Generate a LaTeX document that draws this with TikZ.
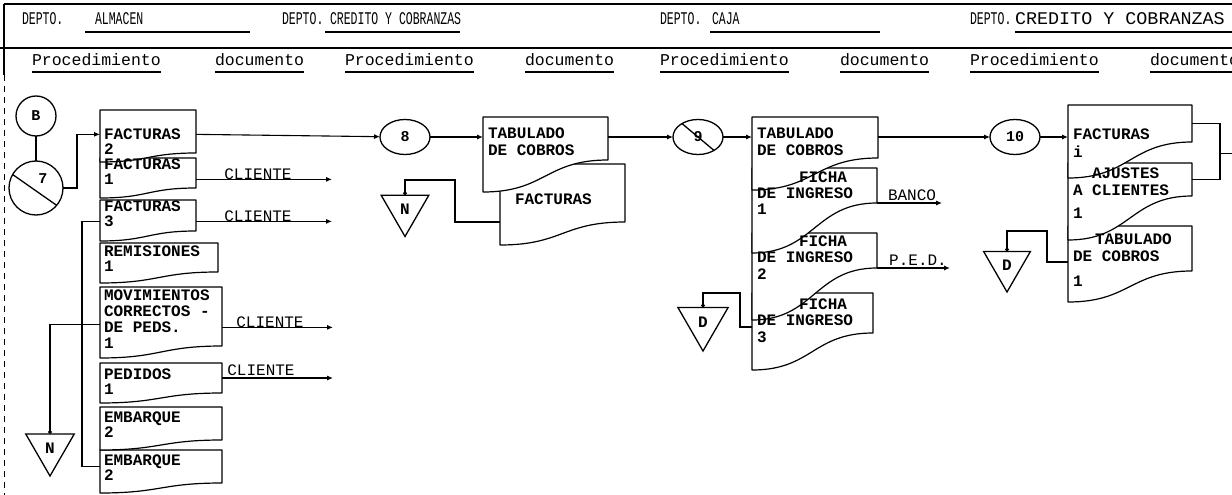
\documentclass[tikz,border=0pt]{standalone}
\usepackage{fontspec}
\usepackage{graphicx}
\setmainfont{Liberation Mono}
\usetikzlibrary{arrows.meta,fit,calc,shapes.geometric}
\newcommand\hs[1]{\scalebox{1}[1.55]{#1}}
\tikzset{
  every node/.style={inner sep=0pt, outer sep=0pt},
  plain/.style={line width=1.1pt},
  thickln/.style={line width=2.4pt},
  conn/.style={line width=1.1pt, -{Latex[length=6pt,width=5pt]}},
  dotc/.style={line width=1.1pt, -{Circle[length=4pt]}},
  docline/.style={line width=1.2pt, fill=white, line join=round},
  hdr/.style={font=\fontsize{11.5}{13}\selectfont, anchor=mid west},
  sub/.style={font=\fontsize{16.5}{18}\selectfont, anchor=mid west},
  dtxt/.style={font=\fontsize{16}{16}\selectfont\bfseries, anchor=mid west},
  lbl/.style={font=\fontsize{16}{16}\selectfont, anchor=base},
  circ/.style={draw, ellipse, line width=1.3pt, minimum width=50pt, minimum height=35pt, font=\fontsize{15}{15}\selectfont\bfseries},
  tri/.style={draw, regular polygon, regular polygon sides=3, shape border rotate=180, line width=1.3pt, font=\fontsize{16}{16}\selectfont\bfseries}
}
\newcommand\docbox[6]{%
  \draw[docline] (#2,#3) -- (#4,#3) -- (#4,#6) .. controls ({(#2+#4)/2},#6) and ({(#2+#4)/2},#5) .. (#2,#5) -- cycle;
  \node[fit={(#2,#3) (#4,#6)}] (#1) {};}
\begin{document}
\begin{tikzpicture}[x=1pt,y=-1pt]
\useasboundingbox (0,0) rectangle (1232,495);
\fill[white] (0,0) rectangle (1232,495);
% frame
\draw[line width=1.3pt] (4,4) -- (1232,4);
\draw[line width=1.1pt] (4,4) -- (4,75);
\draw[line width=0.8pt, dash pattern=on 6pt off 5pt] (4,75) -- (4,495);
\draw[line width=1.1pt] (0,48) -- (1232,48);
% header
\node[hdr] (h1) at (22,22) {\hs{DEPTO.}};
\node[hdr] (h1b) at (95,22) {\hs{ALMACEN}};
\draw[plain] (85,32) -- (250,32);
\node[hdr] (h2) at (282,22) {\hs{DEPTO.}};
\node[hdr] (h2b) at (330,22) {\hs{CREDITO Y COBRANZAS}};
\draw[plain] (325,32) -- (460,32);
\node[hdr] (h3) at (660,22) {\hs{DEPTO.}};
\node[hdr] (h3b) at (712,22) {\hs{CAJA}};
\draw[plain] (710,32) -- (880,32);
\node[hdr] (h4) at (970,22) {\hs{DEPTO.}};
\node[hdr] (h4b) at (1015,22) {\scalebox{1.6}[1.55]{CREDITO Y COBRANZAS}};
\draw[plain] (1015,32) -- (1232,32);
% sub header
\foreach \n/\x/\t in {p1/32/Procedimiento, d1/215/documento, p2/345/Procedimiento, d2/525/documento, p3/660/Procedimiento, d3t/840/documento, p4/970/Procedimiento, d4t/1150/documento}{
  \node[sub] (\n) at (\x,63) {\t};
  \draw[plain] (\n.west |- 0,72) -- (\n.east |- 0,72);
}
% ---------- column 1 documents (drawn bottom first)
\docbox{emb2}{100}{450}{222}{493}{483}
\docbox{emb1}{100}{407}{222}{450}{440}
\docbox{ped}{100}{363}{222}{403}{393}
\docbox{mov}{100}{287}{222}{358}{346}
\docbox{rem}{100}{243}{218}{283}{272}
\docbox{f3}{100}{200}{196}{241}{231}
\docbox{f1}{100}{158}{196}{198}{188}
\docbox{f2}{100}{110}{196}{162}{153}
% column 2
\docbox{fac2}{500}{164}{625}{245}{222}
\docbox{tab2}{483}{117}{608}{192}{160}
% column 3
\docbox{fi3}{752}{293}{873}{370}{333}
\docbox{fi2}{752}{233}{877}{320}{268}
\docbox{fi1}{752}{168}{877}{253}{203}
\docbox{tab3}{752}{117}{878}{190}{158}
% column 4
\docbox{tab4}{1068}{226}{1192}{302}{271}
\docbox{aju}{1068}{163}{1192}{240}{196}
\docbox{fac4}{1068}{105}{1192}{178}{142}
% ---------- texts column 1
\node[dtxt] (f2a) at (104,137) {FACTURAS};
\node[dtxt] (f2b) at (104,152) {2};
\node[dtxt] (f1a) at (104,167) {FACTURAS};
\node[dtxt] (f1b) at (104,182) {1};
\node[dtxt] (f3a) at (104,209) {FACTURAS};
\node[dtxt] (f3b) at (104,224) {3};
\node[dtxt] (rema) at (104,254) {REMISIONES};
\node[dtxt] (remb) at (104,269) {1};
\node[dtxt] (mova) at (104,298) {MOVIMIENTOS};
\node[dtxt] (movb) at (104,314) {CORRECTOS -};
\node[dtxt] (movc) at (104,330) {DE PEDS.};
\node[dtxt] (movd) at (104,346) {1};
\node[dtxt] (peda) at (104,377) {PEDIDOS};
\node[dtxt] (pedb) at (104,392) {1};
\node[dtxt] (emba) at (104,420) {EMBARQUE};
\node[dtxt] (embb) at (104,435) {2};
\node[dtxt] (emb2a) at (104,463) {EMBARQUE};
\node[dtxt] (emb2b) at (104,478) {2};
% texts column 2
\node[dtxt] (tab2a) at (488,136) {TABULADO};
\node[dtxt] (tab2b) at (488,153) {DE COBROS};
\node[dtxt] (fac2a) at (515,202) {FACTURAS};
% texts column 3
\node[dtxt] (tab3a) at (757,136) {TABULADO};
\node[dtxt] (tab3b) at (757,153) {DE COBROS};
\node[dtxt] (fi1a) at (799,180) {FICHA};
\node[dtxt] (fi1b) at (757,196) {DE INGRESO};
\node[dtxt] (fi1c) at (757,212) {1};
\node[dtxt] (fi2a) at (799,244) {FICHA};
\node[dtxt] (fi2b) at (757,260) {DE INGRESO};
\node[dtxt] (fi2c) at (757,277) {2};
\node[dtxt] (fi3a) at (799,307) {FICHA};
\node[dtxt] (fi3b) at (757,323) {DE INGRESO};
\node[dtxt] (fi3c) at (757,340) {3};
% texts column 4
\node[dtxt] (fac4a) at (1073,137) {FACTURAS};
\node[dtxt] (fac4b) at (1073,155) {i};
\node[dtxt] (ajua) at (1092,176) {AJUSTES};
\node[dtxt] (ajub) at (1073,193) {A CLIENTES};
\node[dtxt] (ajuc) at (1073,216) {1};
\node[dtxt] (tab4a) at (1095,242) {TABULADO};
\node[dtxt] (tab4b) at (1073,259) {DE COBROS};
\node[dtxt] (tab4c) at (1073,284) {1};
% ---------- circles
\node[circ, minimum width=40pt, minimum height=40pt] (b) at (36,116) {B};
\node[circ, minimum width=54pt, minimum height=54pt] (c7) at (36,188) {};
\node[font=\fontsize{15}{15}\selectfont\bfseries] (c7t) at (43,179) {7};
\draw[line width=1.3pt] (c7.150) -- (c7.-40);
\node[circ] (c8) at (405,137) {8};
\node[circ] (c9) at (698,137) {9};
\draw[line width=1.3pt] (c9.140) -- (c9.-40);
\node[circ] (c10) at (1015,137) {10};
% ---------- triangles
\node[tri, minimum size=56pt] (n1) at (50,448) {N};
\node[tri, minimum size=55pt] (n2) at (405,209) {N};
\node[tri, minimum size=58pt] (dd3) at (703,322) {D};
\node[tri, minimum size=54pt] (dd4) at (1007,265) {D};
% ---------- connectors
\draw[thickln] (b) -- (c7);
\draw[conn] (c7.east) -- ++(14,0) |- (f2.west |- f2a);
\draw[conn] (f2.east |- f2a) -- (c8);
\draw[conn] (c8) -- (tab2.west |- c8);
\draw[conn] (tab2.east |- c8) -- (c9);
\draw[conn] (c9) -- (tab3.west |- c9);
\draw[conn] (tab3.east |- c9) -- (c10);
\draw[conn] (c10) -- (fac4.west |- c10);
% outputs to CLIENTE
\draw[conn] (f1.east |- f1b) -- ++(136,0);
\node[lbl] (cl1) at (258,179) {CLIENTE};
\draw[conn] (f3.east |- f3b) -- ++(136,0);
\node[lbl] (cl2) at (258,221) {CLIENTE};
\draw[conn] (mov.east |- movc) -- ++(111,0);
\node[lbl] (cl3) at (270,327) {CLIENTE};
\draw[conn] (ped.east) -- ++(111,0);
\node[lbl] (cl4) at (261,375) {CLIENTE};
% bracket and file
\draw[plain] (f3.west |- f3b) -- ++(-18,0) |- (emb2.west);
\draw[dotc] ([yshift=-8pt]mov.west) -| (n1.north);
\draw[dotc] (fac2.south west) -- ++(-45,0) -- ++(0,-42) -| (n2.north);
% column 3 outputs
\draw[conn] (fi1.south east) -- ++(65,0);
\node[lbl] (banco) at (912,200) {BANCO};
\draw[conn] (fi2.south east) -- ++(73,0);
\node[lbl] (ped2) at (918,265) {P.E.D.};
\draw[dotc] ([yshift=-14pt]fi3.west) -- ++(-12,0) -- ++(0,-34) -| (dd3.north);
% column 4
\draw[plain] (fac4.east) -- ++(28,0) |- (aju.east);
\draw[plain] ($(fac4.east)+(28,30)$) -- ++(14,0);
\draw[dotc] ([yshift=-13.5pt]tab4.west) -- ++(-21,0) -- ++(0,-31) -| (dd4.north);
\end{tikzpicture}
\end{document}
